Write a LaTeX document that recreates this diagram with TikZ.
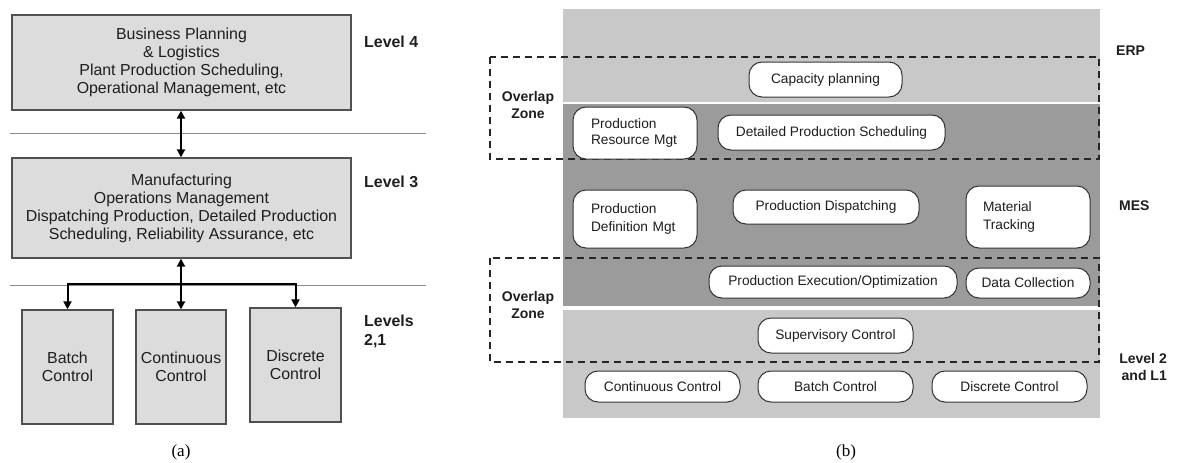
\documentclass[tikz,border=0pt]{standalone}
\usepackage{fontspec}
\setmainfont{Liberation Sans}
\newfontfamily\capfont{Liberation Serif}
\usetikzlibrary{arrows.meta}

\definecolor{boxgray}{HTML}{DCDCDC}
\definecolor{edgegray}{HTML}{505050}
\definecolor{rulegray}{HTML}{8C8C8C}
\definecolor{bandlight}{HTML}{C8C8C8}
\definecolor{banddark}{HTML}{9B9B9B}
\definecolor{inkdark}{HTML}{1E1E1E}

\tikzset{
  lvlbox/.style={draw=edgegray, fill=boxgray, line width=1.3pt, inner sep=0pt,
    align=center, font=\fontsize{15.9}{18}\selectfont, text=inkdark},
  lvllabel/.style={anchor=west, inner sep=0pt, align=left,
    font=\fontsize{15.9}{19}\selectfont\bfseries, text=inkdark},
  sepline/.style={draw=rulegray, line width=0.8pt},
  linkarrow/.style={line width=2pt, black,
    arrows={-Triangle[length=8pt,width=8pt]}},
  linkboth/.style={line width=2pt, black,
    arrows={Triangle[length=8pt,width=8pt]-Triangle[length=8pt,width=8pt]}},
  funcbox/.style={draw=black!80, fill=white, line width=1pt, rounded corners=13pt,
    inner sep=0pt, align=center, font=\fontsize{13.7}{16}\selectfont, text=inkdark},
  funcbox2/.style={funcbox, align=left, inner xsep=18pt},
  zonebox/.style={draw=black!85, line width=1.5pt, dash pattern=on 7pt off 5pt},
  sidelabel/.style={inner sep=0pt, font=\fontsize{14}{17}\selectfont\bfseries, text=inkdark},
  caption/.style={inner sep=0pt, font=\capfont\fontsize{17}{17}\selectfont}
}

\begin{document}
\begin{tikzpicture}[x=1pt, y=-1pt]
\useasboundingbox (0,0) rectangle (1184,463);

% ---------- (a) ISA-95 levels ----------
\draw[sepline] (10,133) -- (426,133);
\draw[sepline] (10,285) -- (426,285);

\node[lvlbox, minimum width=339pt, minimum height=95pt] (b4) at (181.5,62.5)
  {Business Planning\\ \& Logistics\\ Plant Production Scheduling,\\ Operational Management, etc};
\node[lvlbox, minimum width=339pt, minimum height=100pt] (b3) at (181.5,208)
  {Manufacturing\\ Operations Management\\ Dispatching Production, Detailed Production\\ Scheduling, Reliability Assurance, etc};

\node[lvlbox, minimum width=91pt, minimum height=114pt] (batch) at (67.5,367) {Batch\\ Control};
\node[lvlbox, minimum width=90pt, minimum height=114pt] (cont) at (181,367) {Continuous\\ Control};
\node[lvlbox, minimum width=91pt, minimum height=114pt] (disc) at (295.5,365) {Discrete\\ Control};

\draw[linkboth] (b4.south -| cont.north) -- (b3.north -| cont.north);
\draw[linkboth] (b3.south -| cont.north) -- (cont.north);
\coordinate (bus) at (181,284);
\draw[linkarrow] (bus) -| (batch.north);
\draw[linkarrow] (bus) -| (disc.north);

\node[lvllabel] (l4) at (364,42) {Level 4};
\node[lvllabel] (l3) at (364,182) {Level 3};
\node[lvllabel] (l21) at (364,331.5) {Levels\\2,1};

\node[caption] (capa) at (181,452) {(a)};

% ---------- (b) ERP / MES / control bands ----------
\fill[bandlight] (563,9) rectangle (1100,102);
\fill[banddark] (563,104) rectangle (1100,306);
\fill[bandlight] (563,310) rectangle (1100,418);

\draw[zonebox] (490,57) rectangle (1099,159);
\draw[zonebox] (490,258) rectangle (1099,362);

\node[funcbox, minimum width=153pt, minimum height=35pt] (cap) at (825.5,79.5) {Capacity planning};
\node[funcbox2, text width=88pt, minimum width=124pt, minimum height=52pt] (prm) at (635,133)
  {Production\\ Resource Mgt};
\node[funcbox, minimum width=227pt, minimum height=35pt] (dps) at (831.5,132.5) {Detailed Production Scheduling};
\node[funcbox2, text width=88pt, minimum width=124pt, minimum height=58pt] (pdm) at (635,219)
  {Production\\[2pt] Definition Mgt};
\node[funcbox, minimum width=186pt, minimum height=34pt] (pd) at (826,207) {Production Dispatching};
\node[funcbox2, inner xsep=17pt, text width=90pt, minimum width=124pt, minimum height=62pt] (mt) at (1028,217)
  {Material\\[2pt] Tracking};
\node[funcbox, minimum width=248pt, minimum height=32pt] (peo) at (833,282) {Production Execution/Optimization};
\node[funcbox, minimum width=124pt, minimum height=30pt] (dc) at (1028,283) {Data Collection};
\node[funcbox, minimum width=155pt, minimum height=35pt] (sc) at (835.5,335.5) {Supervisory Control};
\node[funcbox, minimum width=155pt, minimum height=31pt] (cc) at (662.5,386.5) {Continuous Control};
\node[funcbox, minimum width=155pt, minimum height=31pt] (bc) at (835.5,386.5) {Batch Control};
\node[funcbox, minimum width=155pt, minimum height=31pt] (dcc) at (1009.5,386.5) {Discrete Control};

\node[sidelabel, align=center] (oz1) at (528,104.5) {Overlap\\ Zone};
\node[sidelabel, align=center] (oz2) at (528,304.5) {Overlap\\ Zone};
\node[sidelabel, anchor=west] (erp) at (1116,51) {ERP};
\node[sidelabel, anchor=west] (mes) at (1119,206) {MES};
\node[sidelabel, anchor=east, align=right] (l2) at (1167,367) {Level 2\\ and L1};

\node[caption] (capb) at (846,452) {(b)};
\end{tikzpicture}
\end{document}
